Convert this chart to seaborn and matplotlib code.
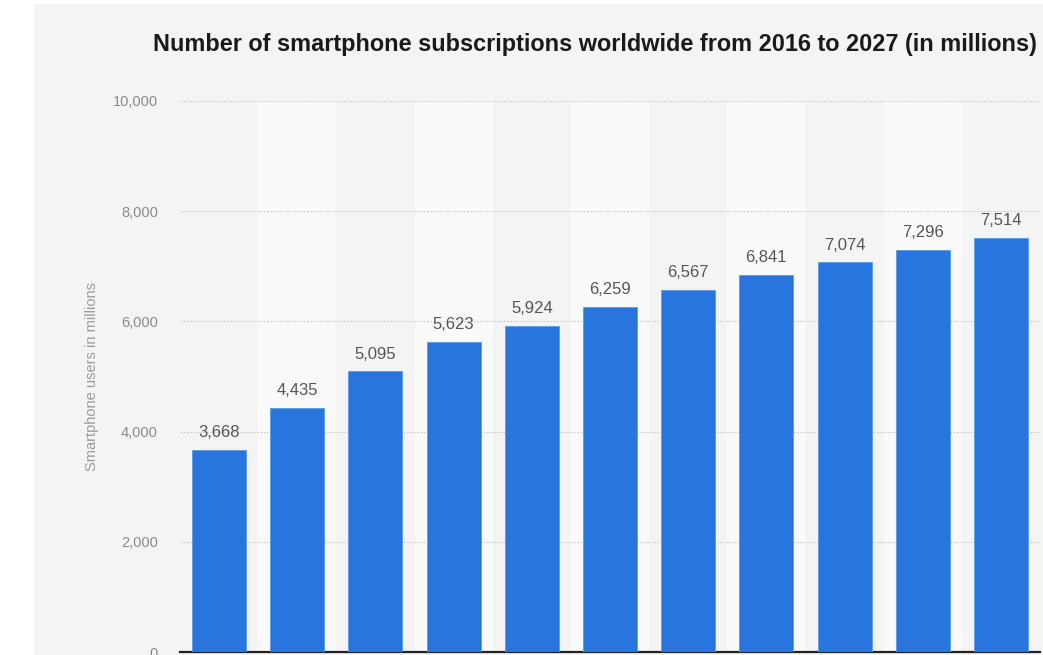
import matplotlib
matplotlib.use("Agg")
import matplotlib.pyplot as plt
import matplotlib.patches as mpatches
import seaborn as sns
import pandas as pd

years = ["2016", "2017", "2018", "2019", "2020", "2021", "2022", "2023", "2024", "2025", "2026"]
subscriptions = [3668, 4435, 5095, 5623, 5924, 6259, 6567, 6841, 7074, 7296, 7514]
y_ticks = [0, 2000, 4000, 6000, 8000, 10000]
title = "Number of smartphone subscriptions worldwide from 2016 to 2027 (in millions)"
y_label = "Smartphone users in millions"

sns.set_theme(style="white")
plt.rcParams["font.family"] = ["Liberation Sans", "DejaVu Sans"]

W, H = 1043, 655
fig = plt.figure(figsize=(W / 100, H / 100), dpi=100)
fig.patch.set_facecolor("white")
# gray card background
fig.patches.append(mpatches.Rectangle((34 / W, 0), 1 - 34 / W, 1 - 4 / H,
                                      transform=fig.transFigure, facecolor="#f4f4f4",
                                      edgecolor="none", zorder=-5))

ax = fig.add_axes([180 / W, 3 / H, 860 / W, (652 - 101) / H])
ax.set_zorder(2)
ax.set_facecolor("none")

df = pd.DataFrame({"year": years, "value": subscriptions})
sns.barplot(data=df, x="year", y="value", color="#2876dd", saturation=1,
            width=0.69, ax=ax, edgecolor="#5a9ae8", linewidth=0.6, zorder=3)

ax.set_xlim(-0.5, len(years) - 0.5)
ax.set_ylim(0, 10000)

# alternating column shading
for i in range(len(years)):
    if i % 2 == 1:
        ax.axvspan(i - 0.5, i + 0.5, color="#fafafa", zorder=0, lw=0)

ax.set_yticks(y_ticks)
ax.set_yticklabels([f"{v:,}" for v in y_ticks], color="#8a8a8a", fontsize=10.5)
ax.tick_params(axis="y", length=0, pad=16)
ax.yaxis.grid(True, linestyle=(0, (1.5, 1.5)), color="#c8c8c8", linewidth=0.8, zorder=1)
ax.set_axisbelow(True)
ax.set_xticks([])
ax.set_xlabel("")
ax.set_ylabel(y_label, color="#9a9a9a", fontsize=10.5, labelpad=10)

for s in ["top", "right", "left"]:
    ax.spines[s].set_visible(False)
ax.spines["bottom"].set_color("#222222")
ax.spines["bottom"].set_linewidth(1.6)

for i, v in enumerate(subscriptions):
    ax.annotate(f"{v:,}", (i, v), xytext=(0, 7), textcoords="offset points",
                ha="center", va="bottom", fontsize=12, color="#555555", zorder=4)

fig.text(153 / W, 1 - 44 / H, title, ha="left", va="center", fontsize=16.9,
         fontweight="bold", color="#1a1a1a")

fig.savefig("out.png", dpi=100)
